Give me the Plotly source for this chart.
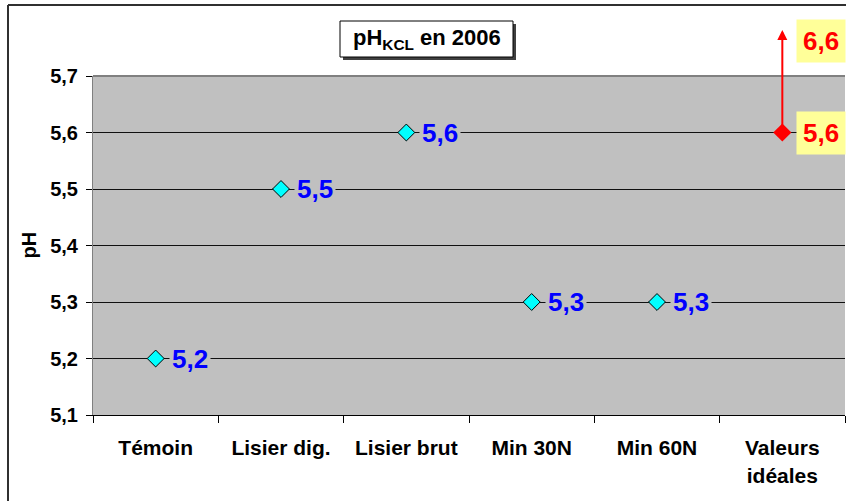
import plotly.graph_objects as go

# --- data ---
categories = ["Témoin", "Lisier dig.", "Lisier brut", "Min 30N", "Min 60N", "Valeurs<br>idéales"]
ph_values = [5.2, 5.5, 5.6, 5.3, 5.3]
ideal_low = 5.6
ideal_high = 6.6
y_ticks = [5.1, 5.2, 5.3, 5.4, 5.5, 5.6, 5.7]


def fr(v):
    return f"{v:.1f}".replace(".", ",")


W, H = 846, 501
L, R, T, B = 93, 1, 76, 86
pw, ph_ = W - L - R, H - T - B
FONT = "Liberation Sans, Arial"


def px_x(x):
    return (x - L) / pw


def px_y(y):
    return (H - B - y) / ph_


fig = go.Figure()

fig.add_trace(go.Scatter(
    x=categories[:5], y=ph_values, mode="markers",
    marker=dict(symbol="diamond", size=13, color="#00FFFF", line=dict(color="black", width=1)),
    cliponaxis=False, hoverinfo="skip",
))
fig.add_trace(go.Scatter(
    x=[categories[5]], y=[ideal_low], mode="markers",
    marker=dict(symbol="diamond", size=14, color="#FF0000"),
    cliponaxis=False, hoverinfo="skip",
))

annotations = []
for c, v in zip(categories[:5], ph_values):
    annotations.append(dict(
        x=c, y=v, xref="x", yref="y", text=f"<b>{fr(v)}</b>", showarrow=False,
        xanchor="left", yanchor="middle", xshift=13, bgcolor="#C0C0C0", borderpad=2,
        font=dict(family=FONT, size=26, color="#0000FF"),
    ))

# arrow from the ideal low value up towards the (off-scale) ideal high value
annotations.append(dict(
    x=categories[5], y=5.7 + (T - 30) / ph_ * 0.6, xref="x", yref="y",
    ax=categories[5], ay=ideal_low, axref="x", ayref="y",
    showarrow=True, arrowhead=2, arrowsize=1, arrowwidth=2, arrowcolor="#FF0000", text="",
))
annotations.append(dict(
    x=categories[5], y=ideal_low, xref="x", yref="y", text=f"<b>{fr(ideal_low)}</b>",
    showarrow=False, xanchor="left", yanchor="middle", xshift=14,
    bgcolor="#FFFF99", borderpad=6,
    font=dict(family=FONT, size=26, color="#FF0000"),
))
annotations.append(dict(
    x=categories[5], y=px_y(41), xref="x", yref="paper", text=f"<b>{fr(ideal_high)}</b>",
    showarrow=False, xanchor="left", yanchor="middle", xshift=14,
    bgcolor="#FFFF99", borderpad=6,
    font=dict(family=FONT, size=26, color="#FF0000"),
))

# title text (box drawn as shapes)
annotations.append(dict(
    x=px_x(427), y=px_y(39), xref="paper", yref="paper", xanchor="center", yanchor="middle",
    text="<b>pH<sub>KCL</sub> en 2006</b>", showarrow=False,
    font=dict(family=FONT, size=22, color="black"),
))
# y axis title
annotations.append(dict(
    x=px_x(28), y=0.5, xref="paper", yref="paper", xanchor="center", yanchor="middle",
    text="<b>pH</b>", textangle=-90, showarrow=False,
    font=dict(family=FONT, size=20, color="black"),
))

shapes = [
    # title shadow + box
    dict(type="rect", xref="paper", yref="paper",
         x0=px_x(343), x1=px_x(516), y0=px_y(60), y1=px_y(24),
         fillcolor="#404040", line=dict(width=0), layer="above"),
    dict(type="rect", xref="paper", yref="paper",
         x0=px_x(340), x1=px_x(513), y0=px_y(57), y1=px_y(21),
         fillcolor="white", line=dict(color="black", width=1), layer="above"),
    # outer chart frame (left and top)
    dict(type="line", xref="paper", yref="paper",
         x0=px_x(8), x1=px_x(8), y0=px_y(5), y1=px_y(501),
         line=dict(color="#303030", width=2)),
    dict(type="line", xref="paper", yref="paper",
         x0=px_x(8), x1=px_x(846), y0=px_y(5), y1=px_y(5),
         line=dict(color="#303030", width=2)),
    # plot area top border
    dict(type="line", xref="paper", yref="paper",
         x0=0, x1=1, y0=1, y1=1, line=dict(color="#808080", width=2)),
]

fig.update_layout(
    width=W, height=H,
    margin=dict(l=L, r=R, t=T, b=B),
    paper_bgcolor="white", plot_bgcolor="#C0C0C0",
    showlegend=False, separators=", ",
    font=dict(family=FONT, size=20, color="black"),
    annotations=annotations, shapes=shapes,
)
fig.update_xaxes(
    type="category", categoryorder="array", categoryarray=categories,
    range=[-0.5, len(categories) - 0.5],
    tickson="boundaries", ticks="outside", ticklen=7, tickcolor="black",
    showgrid=False, showline=True, linecolor="black", linewidth=1,
    tickfont=dict(size=21, weight="bold"), ticklabelstandoff=14, zeroline=False,
)
fig.update_yaxes(
    range=[5.1, 5.7], tickvals=y_ticks, tickformat=".1f",
    ticks="outside", ticklen=6, tickcolor="black",
    showgrid=True, gridcolor="#101010", gridwidth=1,
    showline=True, linecolor="#808080", linewidth=1, zeroline=False,
    tickfont=dict(size=20, weight="bold"), ticklabelstandoff=4,
)

fig.write_html("out.html", config={"displayModeBar": False},
               post_script="document.body.style.margin='0';")
